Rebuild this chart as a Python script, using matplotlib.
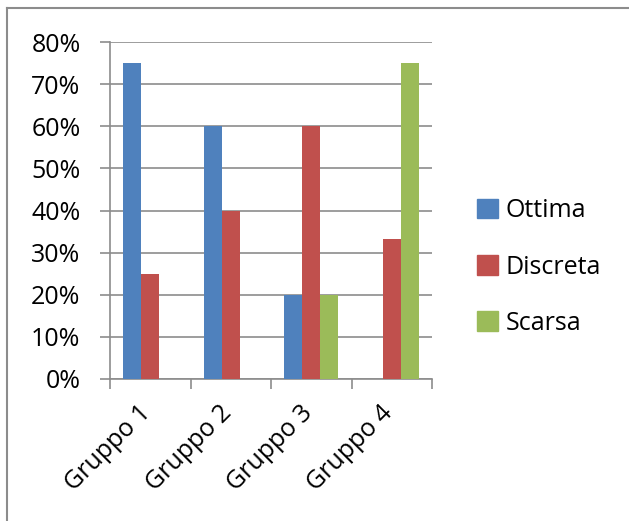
import matplotlib
matplotlib.use("Agg")
import matplotlib.pyplot as plt
from matplotlib.lines import Line2D
import numpy as np

categories = ["Gruppo 1", "Gruppo 2", "Gruppo 3", "Gruppo 4"]
series_names = ["Ottima", "Discreta", "Scarsa"]
ottima = [0.75, 0.60, 0.20, 0.0]
discreta = [0.25, 0.40, 0.60, 1/3]
scarsa = [0.0, 0.0, 0.20, 0.75]
y_ticks = [0, 0.1, 0.2, 0.3, 0.4, 0.5, 0.6, 0.7, 0.8]
colors = ["#4F81BD", "#C0504D", "#9BBB59"]

plt.rcParams['font.family'] = ['Open Sans', 'DejaVu Sans']
fig = plt.figure(figsize=(6.29, 5.21), dpi=100)
ax = fig.add_axes([110/629, 1-379/521, 322/629, 337/521])

n = len(series_names)
w = 1/(n+1.5)
x = np.arange(len(categories))
for i, (name, vals) in enumerate(zip(series_names, [ottima, discreta, scarsa])):
    ax.bar(x - 0.5 + 0.75*w + i*w, vals, width=w, align='edge', color=colors[i],
           label=name, zorder=3)

ax.set_xlim(-0.5, len(categories)-0.5)
ax.set_ylim(0, 0.8)
ax.set_yticks(y_ticks)
ax.set_yticklabels([f"{int(round(t*100))}%" for t in y_ticks], fontsize=18)
ax.yaxis.grid(True, color="#8c8c8c", linewidth=1.2, zorder=0)
for s in ["top", "right"]:
    ax.spines[s].set_visible(False)
for s in ["left", "bottom"]:
    ax.spines[s].set_color("#8c8c8c")
    ax.spines[s].set_linewidth(1.2)
ax.tick_params(axis='y', length=7.2, width=1.2, color="#8c8c8c", pad=14)
ax.set_xticks(np.arange(len(categories)+1) - 0.5)
ax.set_xticklabels([])
ax.tick_params(axis='x', length=7.2, width=1.2, color="#8c8c8c")
for xi, c in zip(x, categories):
    ax.annotate(c, xy=(xi, 0), xycoords=('data', 'axes fraction'),
                xytext=(-2, -22), textcoords='offset points',
                rotation=45, ha='right', va='center', rotation_mode='anchor',
                fontsize=18)

handles = [plt.Rectangle((0, 0), 1, 1, color=c) for c in colors]
fig.legend(handles, series_names, loc='center left', bbox_to_anchor=(477/629, 1-267/521),
           frameon=False, fontsize=18, handlelength=0.84, handleheight=0.84,
           labelspacing=1.25, handletextpad=0.3, borderpad=0, borderaxespad=0)

fig.add_artist(Line2D([7/629, 7/629], [0, 1-8/521], color="#8c8c8c", linewidth=1.5,
                      transform=fig.transFigure))
fig.add_artist(Line2D([7/629, 1], [1-8/521, 1-8/521], color="#8c8c8c", linewidth=1.5,
                      transform=fig.transFigure))

fig.savefig("out.png", dpi=100)
